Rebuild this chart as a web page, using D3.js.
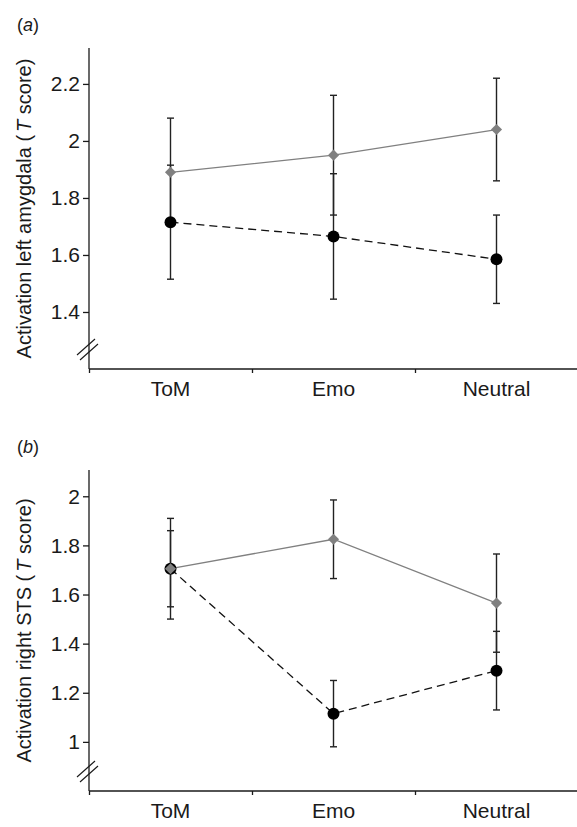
<!doctype html>
<html lang="en">
<head>
  <meta charset="utf-8" />
  <title>Activation by condition</title>
  <style>
    html, body { margin: 0; padding: 0; background: #fff; }
    svg { display: block; }
    text { font-family: "Liberation Sans", Arial, sans-serif; fill: #1a1a1a; }
  </style>
</head>
<body>
<script src="https://cdn.jsdelivr.net/npm/d3@7"></script>
<script>

// categories
var categories = ['ToM', 'Emo', 'Neutral'];

// panel (a) left amygdala
var grayA = [1.89, 1.95, 2.04];
var grayErrA = [0.19, 0.21, 0.18];
var blackA = [1.715, 1.665, 1.585];
var blackErrA = [0.2, 0.22, 0.155];
var ticksA = [1.4, 1.6, 1.8, 2, 2.2];

// panel (b) right STS
var grayB = [1.705, 1.825, 1.565];
var grayErrB = [0.205, 0.16, 0.2];
var blackB = [1.705, 1.115, 1.29];
var blackErrB = [0.155, 0.135, 0.16];
var ticksB = [1, 1.2, 1.4, 1.6, 1.8, 2];

var width = 577, height = 827;
var svg = d3.select('body').append('svg')
  .attr('width', width)
  .attr('height', height);

var x = d3.scaleBand().domain(categories).range([89, 578]);
var xEdges = d3.scaleLinear().domain([0, 3]).range([89, 578]);

var panels = [
  { label: 'a', top: 48, bottom: 369, domain: [1.2, 2.326], ticks: ticksA,
    title: 'Activation left amygdala (', gray: grayA, grayErr: grayErrA, black: blackA, blackErr: blackErrA },
  { label: 'b', top: 470, bottom: 791, domain: [0.8, 2.107], ticks: ticksB,
    title: 'Activation right STS (', gray: grayB, grayErr: grayErrB, black: blackB, blackErr: blackErrB }
];

panels.forEach(function (p) {
  var y = d3.scaleLinear().domain(p.domain).range([p.bottom, p.top]);
  var g = svg.append('g');

  // panel letter
  var lab = g.append('text')
    .attr('x', 17)
    .attr('y', p.top - 17)
    .style('font-size', '18px');
  lab.append('tspan').text('(');
  lab.append('tspan').style('font-style', 'italic').text(p.label);
  lab.append('tspan').text(')');

  // y axis
  var yAxis = g.append('g')
    .attr('transform', 'translate(89,0)')
    .call(d3.axisLeft(y).tickValues(p.ticks).tickSize(6).tickPadding(3)
      .tickFormat(d3.format('~g')));
  yAxis.select('.domain').attr('d', 'M0,' + p.top + 'V' + p.bottom);
  yAxis.selectAll('text').style('font-size', '21px').style('fill', '#1a1a1a');

  // x axis line and edge ticks
  var xAxis = g.append('g')
    .attr('transform', 'translate(0,' + p.bottom + ')')
    .call(d3.axisBottom(xEdges).ticks(3).tickSize(4).tickFormat(''));
  xAxis.select('.domain').attr('d', 'M89,0H578');

  // category labels
  g.append('g')
    .attr('transform', 'translate(0,' + p.bottom + ')')
    .call(d3.axisBottom(x).tickSize(0).tickPadding(12))
    .call(function (s) { s.select('.domain').remove(); })
    .selectAll('text').style('font-size', '21px').style('fill', '#1a1a1a');

  g.selectAll('.domain, .tick line').attr('stroke', '#1a1a1a').attr('stroke-width', 1.3);

  // axis break marks
  var by = p.bottom - 17;
  [0, 5].forEach(function (o) {
    g.append('line')
      .attr('x1', 77 + o * 0.6).attr('y1', by + 3 + o)
      .attr('x2', 95 + o * 0.6).attr('y2', by - 13 + o)
      .attr('stroke', '#1a1a1a').attr('stroke-width', 1.2);
  });

  // axis title
  var cy = (p.top + p.bottom) / 2 + 0;
  var t = g.append('text')
    .attr('transform', 'translate(31,' + cy + ') rotate(-90)')
    .attr('text-anchor', 'middle')
    .style('font-size', '20px');
  t.append('tspan').text(p.title);
  t.append('tspan').attr('dx', 3).style('font-style', 'italic').text('T');
  t.append('tspan').text(' score)');

  var cx = function (d, i) { return x(categories[i]) + x.bandwidth() / 2; };

  // error bars
  [[p.gray, p.grayErr], [p.black, p.blackErr]].forEach(function (s) {
    var eb = g.append('g').selectAll('g').data(s[0]).enter().append('g')
      .attr('stroke', '#222').attr('stroke-width', 1.4);
    eb.append('line')
      .attr('x1', cx).attr('x2', cx)
      .attr('y1', function (d, i) { return y(d + s[1][i]); })
      .attr('y2', function (d, i) { return y(d - s[1][i]); });
    [1, -1].forEach(function (sign) {
      eb.append('line')
        .attr('x1', function (d, i) { return cx(d, i) - 3.5; })
        .attr('x2', function (d, i) { return cx(d, i) + 3.5; })
        .attr('y1', function (d, i) { return y(d + sign * s[1][i]); })
        .attr('y2', function (d, i) { return y(d + sign * s[1][i]); });
    });
  });

  // lines
  var line = d3.line().x(cx).y(function (d) { return y(d); });
  g.append('path').datum(p.gray)
    .attr('d', line).attr('fill', 'none')
    .attr('stroke', '#808080').attr('stroke-width', 1.3);
  g.append('path').datum(p.black)
    .attr('d', line).attr('fill', 'none')
    .attr('stroke', '#111').attr('stroke-width', 1.3)
    .attr('stroke-dasharray', '8,5');

  // markers
  g.append('g').selectAll('circle').data(p.black).enter().append('circle')
    .attr('cx', cx).attr('cy', function (d) { return y(d); })
    .attr('r', 6).attr('fill', '#000');
  g.append('g').selectAll('path').data(p.gray).enter().append('path')
    .attr('d', d3.symbol(d3.symbolSquare, 62))
    .attr('transform', function (d, i) {
      return 'translate(' + cx(d, i) + ',' + y(d) + ') rotate(45)';
    })
    .attr('fill', '#808080');
});

</script>
</body>
</html>
